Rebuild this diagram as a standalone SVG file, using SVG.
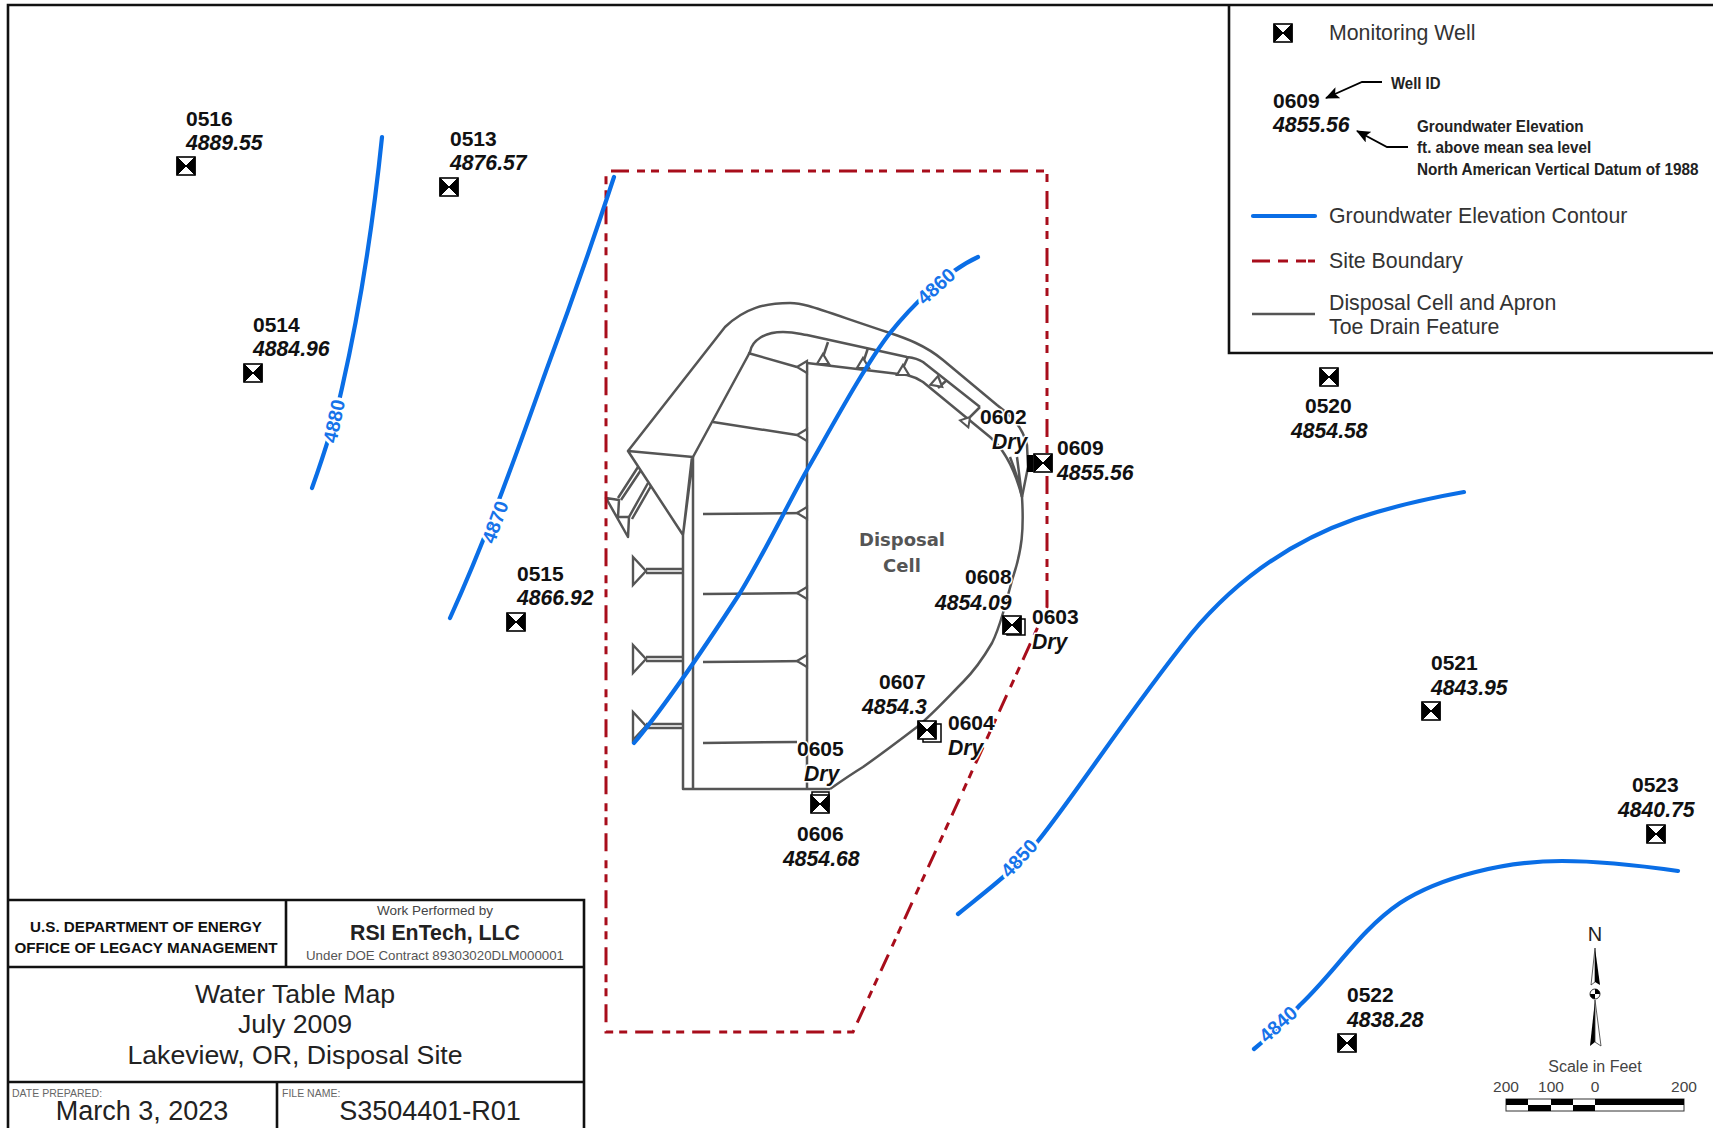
<svg xmlns="http://www.w3.org/2000/svg" width="1713" height="1128" viewBox="0 0 1713 1128">
<style>
text{font-family:"Liberation Sans",Arial,sans-serif}
.id{font-size:21px;font-weight:bold;fill:#111;stroke:#fff;stroke-width:3px;paint-order:stroke;stroke-linejoin:round}
.v{font-size:21.2px;font-weight:bold;font-style:italic;fill:#111;stroke:#fff;stroke-width:3px;paint-order:stroke;stroke-linejoin:round}
.c{fill:none;stroke:#0a6ee6;stroke-width:4.2;stroke-linecap:round}
.cl{font-size:19.5px;font-weight:bold;fill:#1673ea;stroke:#fff;stroke-width:6px;paint-order:stroke;text-anchor:middle;stroke-linejoin:round}
.b{fill:none;stroke:#a80d1b;stroke-width:3;stroke-dasharray:18 8 8 6 8 9}
.g{fill:none;stroke:#555;stroke-width:2.5;stroke-linejoin:round}
.g2{fill:#fff;stroke:#555;stroke-width:2.5;stroke-linejoin:round}
.f{fill:none;stroke:#111;stroke-width:2.6}
.lg{font-size:21.3px;fill:#333}
.ln{font-size:17px;font-weight:bold;fill:#222}
.tb{font-size:15.2px;font-weight:bold;fill:#111;text-anchor:middle}
.tt{font-size:26.7px;fill:#222;text-anchor:middle}
.sm{font-size:10.5px;fill:#666}
.big{font-size:27px;fill:#222;text-anchor:middle}
.sc{font-size:15.5px;fill:#444;text-anchor:middle}
</style>
<defs>
<g id="w"><rect x="-9" y="-9" width="18" height="18" fill="#fff" stroke="#000" stroke-width="1.6"/><path d="M-9 -9L0 0L-9 9ZM9 -9L0 0L9 9Z" fill="#000" stroke="#000"/></g>
<g id="t"><path d="M0 0L10 -6V6Z" fill="#fff" stroke="#555" stroke-width="2.2"/></g>
<g id="a"><path d="M0 -14V14L13 0Z" fill="#fff" stroke="#555" stroke-width="2.4"/><path d="M13 -2H50M13 2H50" stroke="#555" stroke-width="2.4" fill="none"/></g>
<marker id="ah" viewBox="0 0 14 12" refX="13" refY="6" markerWidth="14" markerHeight="12" orient="auto" markerUnits="userSpaceOnUse"><path d="M0 0L14 6L0 12L3 6Z" fill="#000"/></marker>
</defs>
<rect width="1713" height="1128" fill="#fff"/>
<g id="frame">
<path class="f" d="M8 1128V5H1713"/>
</g>
<g id="disposal-cell">
<path class="g" d="M628 451L725 327C745 308 765 303 790 303C805 303 815 308 890 333C905 338 925 345 943 360L997 405C1010 415 1022 425 1027 445L1028 467L1022 497"/>
<path class="g" d="M693 457L750 352C752 340 765 332 783 332C795 332 800 334 807 335L907 357C915 358 920 360 923 362L980 407"/>
<path class="g" d="M807 363L857 369L907 375C915 377 920 380 923 382L990 437C1005 450 1015 470 1022 497C1024 530 1022 550 1013 577L1003 613C998 630 995 637 992 643C985 655 975 670 963 682C950 695 935 712 917 727C900 740 880 755 863 767C850 775 840 782 830 789"/>
<path class="g" d="M1010 457C1015 470 1020 485 1022 497M1017 457L1022 497"/>
<path class="g" d="M807 363V789M683 535V789H830M693 457V789M628 451L693 457L683 535ZM692 457L683 535"/>
<path class="g" d="M748 353L797 367M713 422L797 435M703 514L807 513M703 594L807 593M703 662L807 661M703 743L797 742"/>
<path class="g" d="M828 342L823 357M868 348L863 363M908 357L903 368M947 380L938 388M980 407L970 417"/>
<use href="#t" transform="translate(797 367)"/><use href="#t" transform="translate(797 435)"/><use href="#t" transform="translate(797 513)"/><use href="#t" transform="translate(797 593)"/><use href="#t" transform="translate(797 661)"/>
<use href="#t" transform="translate(823 354) rotate(90)"/><use href="#t" transform="translate(863 358) rotate(90)"/><use href="#t" transform="translate(903 365) rotate(90)"/><use href="#t" transform="translate(938 376) rotate(100)"/><use href="#t" transform="translate(970 417) rotate(130) scale(.9)"/>
<use href="#a" transform="translate(633 571)"/><use href="#a" transform="translate(633 659)"/><use href="#a" transform="translate(633 726)"/>
<path class="g2" d="M606 498L619 500L618 517L629 517L628 537Z"/>
<path class="g" d="M618 498L638 467M621 500L641 470M629 517L648 483M632 519L651 486"/>
<text x="902" y="546" text-anchor="middle" style="font-family:'DejaVu Sans',sans-serif;font-size:18px;font-weight:bold;fill:#555">Disposal</text>
<text x="902" y="572" text-anchor="middle" style="font-family:'DejaVu Sans',sans-serif;font-size:18px;font-weight:bold;fill:#555">Cell</text>
</g>
<g id="connectors">
<path id="site-boundary" class="b" d="M611 171H1047V607L853 1032H606V175"/>
<path class="c" d="M382 137C375 205 362 300 342 388C334 425 322 460 312 488"/>
<path class="c" d="M614 177C590 250 565 320 546 371C525 430 490 530 450 618"/>
<path class="c" d="M634 743C660 712 690 670 740 593C765 552 790 500 807 470C830 430 865 365 890 333C910 308 945 272 978 257"/>
<path class="c" d="M958 914C990 888 1015 870 1038 841C1075 795 1130 710 1191 634C1240 575 1295 540 1355 519C1390 507 1430 498 1464 492"/>
<path class="c" d="M1254 1049C1270 1036 1285 1022 1300 1005C1335 972 1360 930 1400 903C1440 877 1505 861 1562 861C1605 861 1650 867 1678 871"/>
<text class="cl" transform="translate(334 421) rotate(-78)" y="7">4880</text>
<text class="cl" transform="translate(495 522) rotate(-70)" y="7">4870</text>
<text class="cl" transform="translate(936 286) rotate(-42)" y="7">4860</text>
<text class="cl" transform="translate(1019 858) rotate(-47)" y="7">4850</text>
<text class="cl" transform="translate(1278 1024) rotate(-42)" y="7">4840</text>
</g>
<g id="well-0516"><use href="#w" x="186" y="166"/><text class="id" x="186" y="126">0516</text><text class="v" x="186" y="150">4889.55</text></g>
<g id="well-0513"><use href="#w" x="449" y="187"/><text class="id" x="450" y="146">0513</text><text class="v" x="450" y="170">4876.57</text></g>
<g id="well-0514"><use href="#w" x="253" y="373"/><text class="id" x="253" y="332">0514</text><text class="v" x="253" y="356">4884.96</text></g>
<g id="well-0515"><use href="#w" x="516" y="622"/><text class="id" x="517" y="581">0515</text><text class="v" x="517" y="605">4866.92</text></g>
<g id="well-0602"><rect x="1027" y="455" width="6" height="17" fill="#000"/><text class="id" x="980" y="424">0602</text><text class="v" x="992" y="449">Dry</text></g>
<g id="well-0609"><use href="#w" x="1043" y="463"/><text class="id" x="1057" y="455">0609</text><text class="v" x="1057" y="480">4855.56</text></g>
<g id="well-0603"><rect x="1007" y="619" width="18" height="16" fill="#fff" stroke="#000" stroke-width="1.5"/><text class="id" x="1032" y="624">0603</text><text class="v" x="1032" y="649">Dry</text></g>
<g id="well-0608"><use href="#w" x="1012" y="625"/><text class="id" x="965" y="584">0608</text><text class="v" x="935" y="610">4854.09</text></g>
<g id="well-0604"><rect x="923" y="724" width="18" height="18" fill="#fff" stroke="#000" stroke-width="1.5"/><text class="id" x="948" y="730">0604</text><text class="v" x="948" y="755">Dry</text></g>
<g id="well-0607"><use href="#w" x="927" y="730"/><text class="id" x="879" y="689">0607</text><text class="v" x="862" y="714">4854.3</text></g>
<g id="well-0605"><rect x="812" y="792" width="17" height="14" fill="#fff" stroke="#000" stroke-width="1.5"/><text class="id" x="797" y="756">0605</text><text class="v" x="804" y="781">Dry</text></g>
<g id="well-0606"><use href="#w" x="820" y="804"/><text class="id" x="797" y="841">0606</text><text class="v" x="783" y="866">4854.68</text></g>
<g id="well-0520"><use href="#w" x="1329" y="377"/><text class="id" x="1305" y="413">0520</text><text class="v" x="1291" y="438">4854.58</text></g>
<g id="well-0521"><use href="#w" x="1431" y="711"/><text class="id" x="1431" y="670">0521</text><text class="v" x="1431" y="695">4843.95</text></g>
<g id="well-0522"><use href="#w" x="1347" y="1043"/><text class="id" x="1347" y="1002">0522</text><text class="v" x="1347" y="1027">4838.28</text></g>
<g id="well-0523"><use href="#w" x="1656" y="834"/><text class="id" x="1632" y="792">0523</text><text class="v" x="1618" y="817">4840.75</text></g>
<g id="legend">
<path class="f" d="M1229 5V353H1713"/>
<use href="#w" x="1283" y="33"/>
<text class="lg" x="1329" y="40">Monitoring Well</text>
<text class="id" x="1273" y="108">0609</text>
<text class="v" x="1273" y="132">4855.56</text>
<text class="ln" transform="translate(1391 89) scale(.88 1)">Well ID</text>
<text class="ln" transform="translate(1417 132) scale(.895 1)">Groundwater Elevation</text>
<text class="ln" transform="translate(1417 153) scale(.895 1)">ft. above mean sea level</text>
<text class="ln" transform="translate(1417 175) scale(.9 1)">North American Vertical Datum of 1988</text>
<path d="M1382 82H1362L1326 98" fill="none" stroke="#000" stroke-width="1.8" marker-end="url(#ah)"/>
<path d="M1408 147H1387L1357 131" fill="none" stroke="#000" stroke-width="1.8" marker-end="url(#ah)"/>
<path d="M1253 216H1315" class="c"/>
<text class="lg" x="1329" y="223">Groundwater Elevation Contour</text>
<path d="M1252 261H1270M1278 261H1288M1296 261H1306M1308 261H1315" fill="none" stroke="#a80d1b" stroke-width="2.8"/>
<text class="lg" x="1329" y="268">Site Boundary</text>
<path d="M1252 314H1315" class="g"/>
<text class="lg" x="1329" y="310">Disposal Cell and Apron</text>
<text class="lg" x="1329" y="334">Toe Drain Feature</text>
</g>
<g id="title-block">
<path class="f" d="M8 900H584V1128M8 967H584M8 1082H584M286 900V967M277 1082V1128"/>
<text class="tb" x="146" y="932">U.S. DEPARTMENT OF ENERGY</text>
<text class="tb" x="146" y="953">OFFICE OF LEGACY MANAGEMENT</text>
<text x="435" y="915" text-anchor="middle" style="font-size:13.5px;fill:#444">Work Performed by</text>
<text x="435" y="940" text-anchor="middle" style="font-size:21.3px;font-weight:bold;fill:#222">RSI EnTech, LLC</text>
<text x="435" y="960" text-anchor="middle" style="font-size:13.3px;fill:#555">Under DOE Contract 89303020DLM000001</text>
<text class="tt" x="295" y="1003">Water Table Map</text>
<text class="tt" x="295" y="1033">July 2009</text>
<text class="tt" x="295" y="1064">Lakeview, OR, Disposal Site</text>
<text class="sm" x="12" y="1097">DATE PREPARED:</text>
<text class="big" x="142" y="1120">March 3, 2023</text>
<text class="sm" x="282" y="1097">FILE NAME:</text>
<text class="big" x="430" y="1120">S3504401-R01</text>
</g>
<g id="north-arrow">
<text x="1595" y="941" text-anchor="middle" style="font-size:20px;fill:#222">N</text>
<path d="M1595 948L1591 985L1595 982Z" fill="#fff" stroke="#333" stroke-width=".8"/>
<path d="M1595 948L1600 985L1595 982Z" fill="#000"/>
<circle cx="1595" cy="994" r="5" fill="#fff" stroke="#333"/>
<path d="M1595 994V989A5 5 0 0 1 1600 994ZM1595 994V999A5 5 0 0 1 1590 994Z" fill="#000"/>
<path d="M1595 1000L1590 1046L1595 1042Z" fill="#000"/>
<path d="M1595 1000L1601 1046L1595 1042Z" fill="#fff" stroke="#333" stroke-width=".8"/>
</g>
<g id="scale">
<text x="1595" y="1072" text-anchor="middle" style="font-size:16px;fill:#444">Scale in Feet</text>
<text class="sc" x="1506" y="1092">200</text><text class="sc" x="1551" y="1092">100</text><text class="sc" x="1595" y="1092">0</text><text class="sc" x="1684" y="1092">200</text>
<rect x="1506" y="1099" width="178" height="12" fill="#fff" stroke="#333" stroke-width="1"/>
<path d="M1506 1099h22v6h-22ZM1551 1099h22v6h-22ZM1595 1099h89v6h-89ZM1528 1105h23v6h-23ZM1573 1105h22v6h-22Z" fill="#000"/>
</g>
</svg>
